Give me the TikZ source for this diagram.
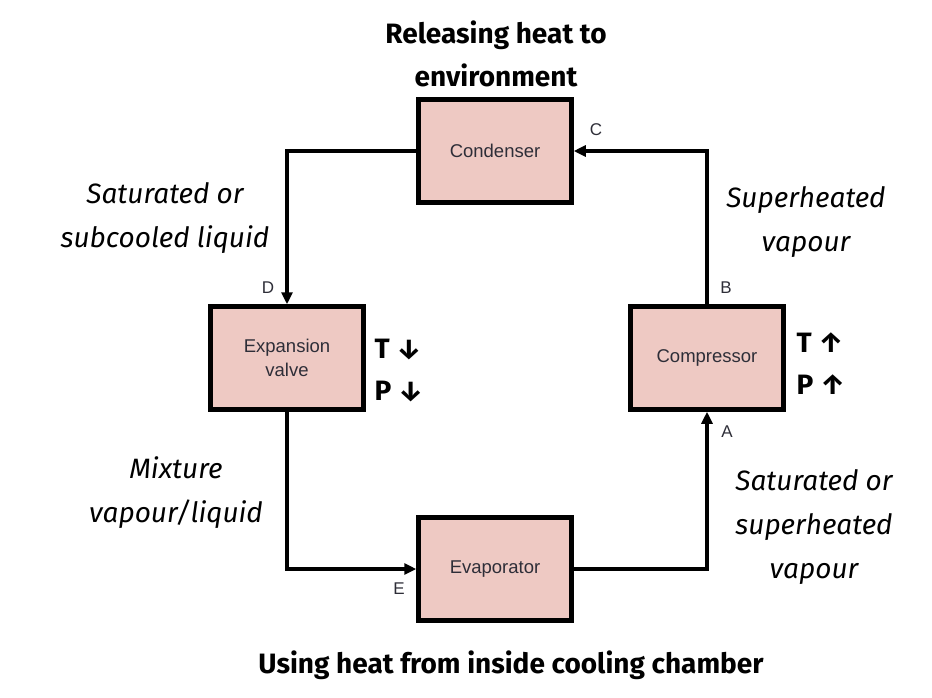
\documentclass[tikz,border=0pt]{standalone}
\usepackage{fontspec}
\setmainfont{Liberation Sans}
\newfontfamily\labelfont{Fira Sans}
\usetikzlibrary{arrows.meta}
\definecolor{boxfill}{HTML}{EEC9C3}
\definecolor{boxtext}{HTML}{2E2E38}
\tikzset{
 compbox/.style={draw=black,fill=boxfill,line width=4.5pt,minimum width=153pt,minimum height=103pt,align=center,text=boxtext,font=\fontsize{18.5}{24}\selectfont},
 flow/.style={-{Triangle[length=12pt,width=11pt]},draw=black,line width=4.5pt},
 note/.style={font=\labelfont\itshape\fontsize{28}{44}\selectfont,align=center},
 heading/.style={font=\labelfont\bfseries\fontsize{28}{43}\selectfont,align=center},
 change/.style={font=\labelfont\bfseries\fontsize{28}{42}\selectfont,align=left},
 tag/.style={font=\fontsize{17}{20}\selectfont,text=boxtext}
}
\begin{document}
\begin{tikzpicture}[x=1pt,y=-1pt]
  \useasboundingbox (0,0) rectangle (932,697);
  \node[compbox] (condenser) at (495,151) {Condenser};
  \node[compbox] (valve) at (287,358) {Expansion\\valve};
  \node[compbox] (compressor) at (707,358) {Compressor};
  \node[compbox] (evaporator) at (495,569) {Evaporator};

  \draw[flow] (condenser.west) -| (valve.north);
  \draw[flow] (valve.south) |- (evaporator.west);
  \draw[flow] (evaporator.east) -| (compressor.south);
  \draw[flow] (compressor.north) |- (condenser.east);

  % state points
  \node[tag] (tagC) at (596,130) {C};
  \node[tag] (tagB) at (726,288) {B};
  \node[tag] (tagD) at (268,288) {D};
  \node[tag] (tagA) at (727,432) {A};
  \node[tag] (tagE) at (399,589) {E};

  \node[heading] (release) at (496,54) {Releasing heat to\\environment};
  \node[heading] (absorb) at (511,665) {Using heat from inside cooling chamber};
  \node[note] (liquid) at (165,218) {Saturated or\\subcooled liquid};
  \node[note] (superheat) at (806,222) {Superheated\\vapour};
  \node[note] (mixture) at (176,493) {Mixture\\vapour/liquid};
  \node[note] (suction) at (814,527) {Saturated or\\superheated\\vapour};
  \node[change] (drop) at (399,371) {T ↓\\P ↓};
  \node[change] (rise) at (821,364) {T ↑\\P ↑};
\end{tikzpicture}
\end{document}
